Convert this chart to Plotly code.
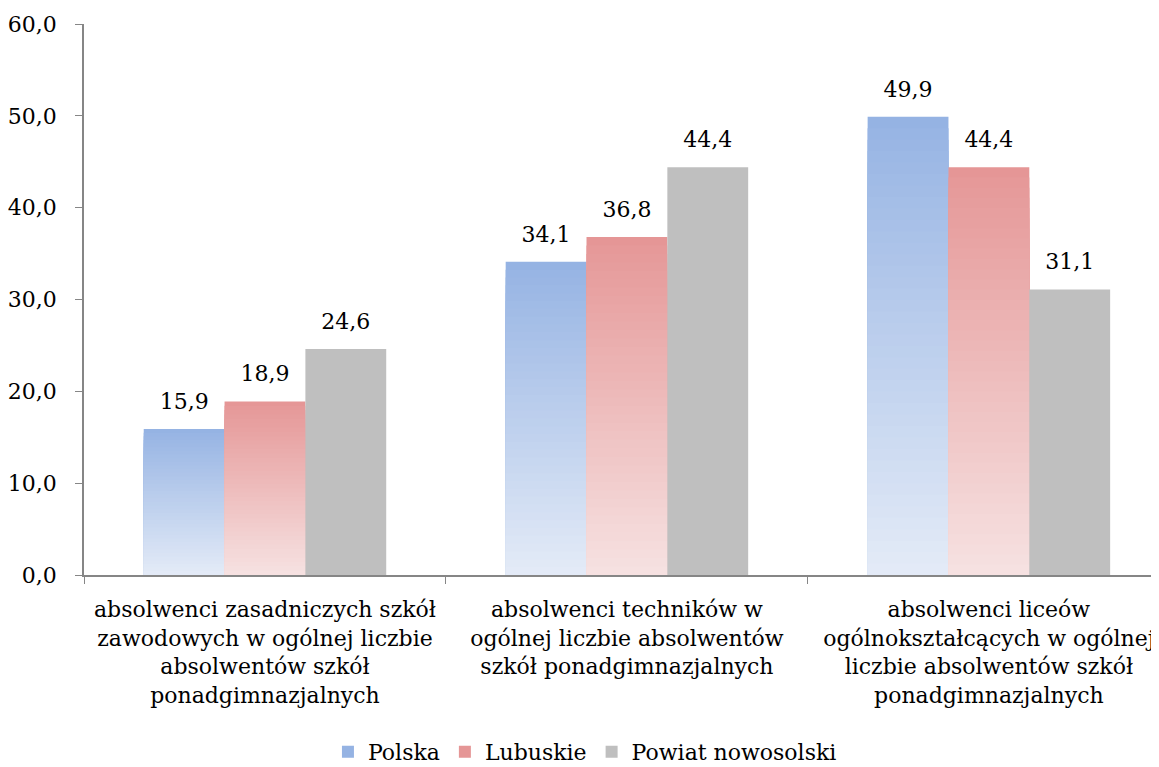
import plotly.graph_objects as go

categories = [
    "absolwenci zasadniczych szkół<br>zawodowych w ogólnej liczbie<br>absolwentów szkół<br>ponadgimnazjalnych",
    "absolwenci techników w<br>ogólnej liczbie absolwentów<br>szkół ponadgimnazjalnych",
    "absolwenci liceów<br>ogólnokształcących w ogólnej<br>liczbie absolwentów szkół<br>ponadgimnazjalnych",
]
series_names = ["Polska", "Lubuskie", "Powiat nowosolski"]
polska = [15.9, 34.1, 49.9]
lubuskie = [18.9, 36.8, 44.4]
powiat = [24.6, 44.4, 31.1]

FONT = "DejaVu Serif"
FS = 22
N_STEPS = 40


def mix(c1, c2, t):
    r = [round(a + (b - a) * t) for a, b in zip(c1, c2)]
    return "rgb(%d,%d,%d)" % tuple(r)


def gradient_series(fig, name, values, top, bottom, rank):
    fig.add_trace(go.Bar(
        x=categories, y=values, name=name, offsetgroup=name, legendrank=rank,
        marker=dict(color=mix(bottom, top, 1.0), line=dict(width=0)),
    ))
    # nested bars from 0, each shorter and lighter -> vertical gradient
    for k in range(1, N_STEPS):
        f = (N_STEPS - k) / N_STEPS
        fig.add_trace(go.Bar(
            x=categories, y=[v * f for v in values],
            offsetgroup=name, showlegend=False, hoverinfo="skip",
            marker=dict(color=mix(bottom, top, f - 0.5 / N_STEPS), line=dict(width=0)),
        ))


fig = go.Figure()
gradient_series(fig, "Polska", polska, (149, 179, 227), (228, 235, 247), 1)
gradient_series(fig, "Lubuskie", lubuskie, (229, 150, 150), (246, 226, 226), 2)
fig.add_trace(go.Bar(
    x=categories, y=powiat, name="Powiat nowosolski", offsetgroup="Powiat nowosolski",
    legendrank=3, marker=dict(color="#bfbfbf", line=dict(width=0)),
))

# value labels: invisible markers grouped like the bars, text above them
for name, values in zip(series_names, [polska, lubuskie, powiat]):
    fig.add_trace(go.Scatter(
        x=categories, y=values, offsetgroup=name, mode="markers+text",
        marker=dict(size=22, color="rgba(0,0,0,0)"),
        text=[f"{v:.1f}".replace(".", ",") for v in values],
        textposition="top center",
        textfont=dict(family=FONT, size=FS, color="black"),
        showlegend=False, hoverinfo="skip", cliponaxis=False,
    ))

# page body keeps its default 8px margin, so the figure is 8px smaller
fig.update_layout(
    width=1151, height=759,
    margin=dict(l=76, r=0, t=16, b=192, autoexpand=False),
    plot_bgcolor="white", paper_bgcolor="white",
    barmode="group", bargap=0.33, bargroupgap=0,
    scattermode="group", scattergap=0.33,
    separators=", ",
    font=dict(family=FONT, size=FS, color="black"),
    showlegend=True,
    legend=dict(orientation="h", x=0.466, xanchor="center", y=-0.321, yanchor="middle",
                font=dict(family=FONT, size=FS), itemwidth=30, traceorder="normal"),
)
fig.update_xaxes(
    range=[-0.5, 2.47], showline=True, linecolor="#868686", linewidth=1.5,
    ticks="outside", tickson="boundaries", ticklen=7, tickcolor="#868686",
    showgrid=False, tickfont=dict(family=FONT, size=FS), automargin=False,
    ticklabelstandoff=14,
)
fig.update_yaxes(
    range=[0, 60], dtick=10, tickformat=".1f", showline=True, linecolor="#868686",
    linewidth=1.5, ticks="outside", ticklen=7, tickcolor="#868686", showgrid=False,
    zeroline=False, tickfont=dict(family=FONT, size=FS), automargin=False,
    ticklabelstandoff=14,
)

fig.write_html("out.html")
